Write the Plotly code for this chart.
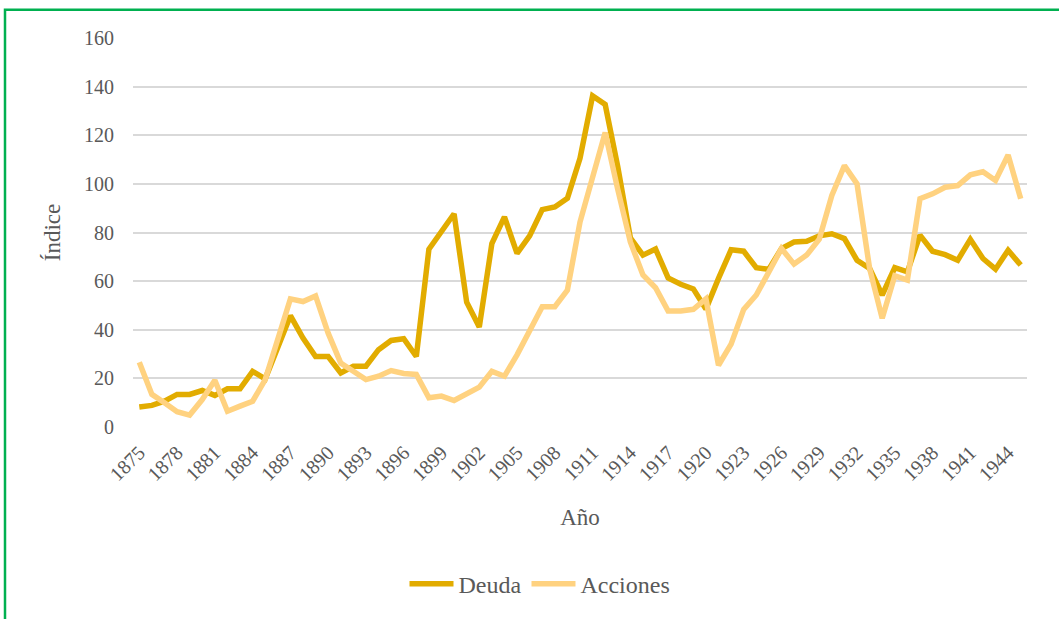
import plotly.graph_objects as go

years = list(range(1875, 1946))

deuda = [8.2, 8.9, 10.6, 13.4, 13.4, 15.0, 13.0, 15.7, 15.7, 22.9,
         19.8, 33.5, 45.8, 36.6, 29.0, 29.0, 22.2, 25.0, 25.0, 31.8,
         35.6, 36.3, 29.0, 73.1, 80.2, 87.7, 51.3, 41.1, 75.4, 86.4,
         71.4, 78.6, 89.4, 90.5, 94.1, 110.5, 136.2, 132.7, 107.0, 77.8,
         70.7, 73.2, 61.3, 58.7, 56.8, 48.5, 61.1, 72.9, 72.3, 65.5,
         64.9, 73.4, 76.1, 76.4, 78.6, 79.5, 77.5, 68.6, 65.2, 54.3,
         65.5, 63.8, 78.9, 72.3, 70.9, 68.6, 77.2, 69.3, 64.9, 72.7,
         66.6]

acciones = [26.6, 13.4, 10.0, 6.3, 4.9, 11.3, 19.2, 6.5, 8.6, 10.6,
            19.5, 35.2, 52.7, 51.6, 53.9, 38.6, 26.3, 22.9, 19.5, 20.9,
            23.2, 22.0, 21.6, 12.0, 12.7, 10.9, 13.6, 16.4, 22.9, 20.9,
            29.7, 39.3, 49.5, 49.5, 56.3, 84.3, 103.4, 121.1, 97.7, 76.1,
            62.5, 57.3, 47.7, 47.7, 48.4, 52.7, 25.4, 34.1, 48.4, 54.3,
            63.8, 73.4, 67.0, 70.7, 77.2, 95.2, 107.5, 100.0, 65.2, 44.7,
            62.2, 60.4, 93.9, 95.9, 98.6, 99.3, 103.7, 105.0, 101.4, 111.9,
            93.9]

tick_years = years[:-1:3]
tick_text = [str(y) for y in tick_years]

FONT = "Liberation Serif, DejaVu Serif, serif"
TXT = "#595959"

fig = go.Figure()
fig.add_trace(go.Scatter(x=years, y=deuda, mode="lines", name="Deuda",
                         line=dict(color="#E2AC00", width=5.5, shape="linear")))
fig.add_trace(go.Scatter(x=years, y=acciones, mode="lines", name="Acciones",
                         line=dict(color="#FFD280", width=5.5, shape="linear")))

L, R, T, B = 133, 32, 38, 190
W, H = 1059, 619
pw = W - L - R
ph = H - T - B

def px(xp):
    return (xp - L) / pw

def py(yp):
    return (H - B - yp) / ph

fig.add_shape(type="rect", xref="paper", yref="paper",
              x0=px(5), x1=px(1070), y0=py(640), y1=py(9.5),
              line=dict(color="#00B050", width=2.5), fillcolor="rgba(0,0,0,0)",
              layer="above")

fig.update_layout(
    width=W, height=H,
    margin=dict(l=L, r=R, t=T, b=B, pad=0),
    paper_bgcolor="white", plot_bgcolor="white",
    font=dict(family=FONT, color=TXT, size=20),
    showlegend=True,
    legend=dict(orientation="h", x=px(540), xanchor="center",
                y=py(587), yanchor="middle",
                font=dict(family=FONT, size=24, color=TXT),
                itemwidth=44, bgcolor="rgba(0,0,0,0)"),
    xaxis=dict(range=[1874.5, 1945.5], tickmode="array",
               tickvals=tick_years, ticktext=tick_text, tickangle=-45,
               showgrid=False, zeroline=False, showline=False,
               ticks="", ticklabelstandoff=9,
               tickfont=dict(family=FONT, size=20, color=TXT),
               title=dict(text="Año", font=dict(family=FONT, size=23, color=TXT),
                          standoff=24)),
    yaxis=dict(range=[0, 160], dtick=20, tick0=0,
               showgrid=True, gridcolor="#D9D9D9", gridwidth=1.6,
               zeroline=False, showline=False, ticks="",
               ticklabelstandoff=18,
               tickfont=dict(family=FONT, size=20, color=TXT),
               title=dict(text="Índice", font=dict(family=FONT, size=23, color=TXT),
                          standoff=16)),
)

fig.write_html("out.html", config={"displayModeBar": False},
               post_script="document.body.style.margin='0';document.body.style.overflow='hidden';")
